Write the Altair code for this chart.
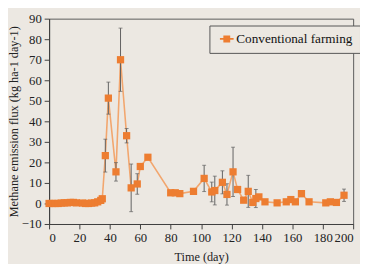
import altair as alt
import pandas as pd

days = [0, 2, 4, 6, 8, 10, 12, 14, 16, 18, 22, 24, 26, 28, 30, 32, 34, 35,
        37, 39, 44, 47, 51, 54, 58, 60, 65, 80, 83, 86, 95, 102, 107, 109,
        114, 117, 121, 124, 128, 131, 134, 136, 138, 142, 150, 156, 159, 162,
        166, 171, 182, 185, 189, 194]
flux = [0, 0, 0, 0, 0.2, 0.3, 0.3, 0.5, 0.5, 0.3, 0.2, 0, 0, 0.2, 0.3, 0.8, 1.5, 2.3,
        23.3, 51.3, 15.4, 70.0, 33.0, 7.6, 9.5, 18.0, 22.5, 5.2, 5.2, 4.8, 5.9, 12.2, 5.6, 6.3,
        10.3, 4.4, 15.4, 6.8, 1.6, 5.9, 0.5, 2.4, 3.2, 0.8, 0.3, 0.8, 1.9, 0.8,
        4.8, 0.8, 0.3, 0.8, 0.5, 4.0]
err = [0, 0, 0, 0, 0, 0, 0, 0, 0, 0, 0, 0, 0, 0, 0, 0, 0, 0,
       8.0, 7.8, 4.5, 15.4, 3.5, 11.6, 5.0, 0, 1.0, 0, 0, 0, 0, 6.4, 4.8, 7.0,
       5.6, 5.2, 12.0, 0, 0, 7.8, 0, 4.4, 0, 0, 0, 0, 0, 0,
       1.5, 0, 0, 0, 0, 3.0]
x_ticks = list(range(0, 201, 20))
y_ticks = list(range(-10, 91, 10))
series = "Conventional farming"

df = pd.DataFrame({"day": days, "flux": flux, "err": err})
df["lo"] = df["flux"] - df["err"]
df["hi"] = df["flux"] + df["err"]
df["series"] = series
edf = df[df["err"] > 0]

FONT = "Liberation Serif"
xscale = alt.Scale(domain=[0, 200], nice=False)
yscale = alt.Scale(domain=[-10, 90], nice=False)
xaxis = alt.Axis(values=x_ticks, grid=False, labelOverlap=False, title="Time (day)")
yaxis = alt.Axis(values=y_ticks, grid=False, labelOverlap=False,
                 title="Methane emission flux (kg ha-1 day-1)")


def X():
    return alt.X("day:Q", scale=xscale, axis=xaxis)


def Y(field):
    return alt.Y(field, scale=yscale, axis=yaxis)


base = alt.Chart(df)
ebase = alt.Chart(edf)

line = base.mark_line(color="#F2A66E", strokeWidth=1.6).encode(x=X(), y=Y("flux:Q"))
bars = ebase.mark_rule(color="#606060", strokeWidth=1).encode(
    x=X(), y=Y("lo:Q"), y2="hi:Q")
caps_hi = ebase.mark_tick(color="#606060", orient="horizontal", size=4, thickness=1).encode(
    x=X(), y=Y("hi:Q"))
caps_lo = ebase.mark_tick(color="#606060", orient="horizontal", size=4, thickness=1).encode(
    x=X(), y=Y("lo:Q"))
pts = base.mark_point(shape="square", filled=True, size=55, opacity=1).encode(
    x=X(), y=Y("flux:Q"),
    color=alt.Color("series:N",
                    scale=alt.Scale(domain=[series], range=["#ED7D31"]),
                    legend=alt.Legend(
                        title=None, orient="none", legendX=164, legendY=7,
                        fillColor="#ECE8E2", strokeColor="#555555",
                        padding=7, labelFont=FONT, labelFontSize=13.5,
                        labelColor="#111111", labelOffset=3,
                        symbolType="M-2,-0.25L2,-0.25L2,0.25L-2,0.25Z M-1,-1L1,-1L1,1L-1,1Z",
                        symbolSize=49, symbolOffset=4, symbolStrokeWidth=0)))

chart = alt.layer(line, bars, caps_hi, caps_lo, pts).properties(
    width=311, height=210, background="#ECE8E2",
    padding={"left": 42, "top": 8, "right": 7, "bottom": 38},
    autosize=alt.AutoSizeParams(type="none"),
).configure_view(
    stroke="#5a5a5a", strokeWidth=1
).configure_axis(
    labelFont=FONT, labelFontSize=13, labelColor="#222222",
    titleFont=FONT, titleFontSize=12.5, titleFontWeight="normal", titleColor="#222222",
    domainColor="#404040", tickColor="#404040", tickSize=5, domainWidth=1.2,
).configure_axisX(
    labelPadding=3, titlePadding=6,
).configure_axisY(
    labelPadding=3, titlePadding=1,
)

chart.save("out.html", embed_options={"renderer": "svg", "actions": False})
